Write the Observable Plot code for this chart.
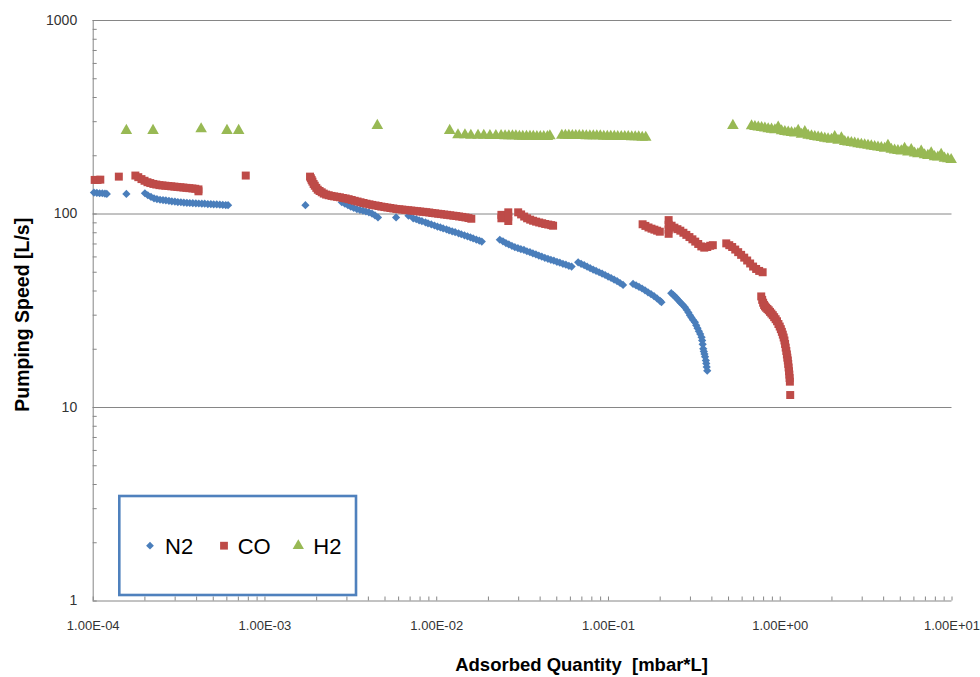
<!DOCTYPE html>
<html>
<head>
<meta charset="utf-8">
<script src="https://cdn.jsdelivr.net/npm/d3@7"></script>
<script src="https://cdn.jsdelivr.net/npm/@observablehq/plot@0.6"></script>
<style>
  body { margin: 0; background: #fff; }
  #wrap { position: relative; width: 980px; height: 677px; overflow: hidden; background: #fff; }
  #wrap svg { display: block; }
</style>
</head>
<body>
<div id="wrap"></div>
<script>
// ---------- series ----------
const seriesNames = ["N2", "CO", "H2"];
const seriesColors = ["#4A7EBB", "#BE4B48", "#98B954"];

// N2 (blue diamonds)
const n2X = [1.01e-4,1.05e-4,1.09e-4,1.13e-4,1.17e-4,1.2e-4,
  1.56e-4,
  2.0e-4,2.08e-4,2.17e-4,2.26e-4,2.35e-4,2.45e-4,2.55e-4,2.65e-4,2.76e-4,2.87e-4,2.99e-4,3.11e-4,3.24e-4,3.37e-4,3.51e-4,3.65e-4,3.80e-4,3.96e-4,4.12e-4,4.29e-4,4.46e-4,4.65e-4,4.84e-4,5.03e-4,5.24e-4,5.46e-4,5.68e-4,5.91e-4,6.1e-4,
  1.72e-3,
  2.8e-3,2.92e-3,3.04e-3,3.16e-3,3.29e-3,3.43e-3,3.57e-3,3.72e-3,3.87e-3,4.03e-3,4.2e-3,4.37e-3,4.55e-3,
  5.8e-3,6.85e-3,
  7.3e-3,7.6e-3,7.9e-3,8.2e-3,8.6e-3,8.9e-3,9.3e-3,9.7e-3,1.01e-2,1.05e-2,1.09e-2,1.14e-2,1.18e-2,1.23e-2,1.28e-2,1.34e-2,1.39e-2,1.45e-2,1.51e-2,1.57e-2,1.63e-2,1.70e-2,1.77e-2,1.83e-2,
  2.33e-2,2.43e-2,2.53e-2,2.63e-2,2.74e-2,2.85e-2,2.97e-2,3.09e-2,3.22e-2,3.35e-2,3.49e-2,3.63e-2,3.78e-2,3.93e-2,4.09e-2,4.26e-2,4.44e-2,4.62e-2,4.81e-2,5.01e-2,5.21e-2,5.43e-2,5.65e-2,5.88e-2,6.1e-2,
  6.66e-2,6.93e-2,7.22e-2,7.51e-2,7.82e-2,8.14e-2,8.47e-2,8.82e-2,9.18e-2,9.56e-2,9.95e-2,0.1036,0.1078,0.1122,0.1168,0.1216,
  0.139,0.1447,0.1506,0.1568,0.1632,0.1699,0.1769,0.1842,0.1917,0.1996,0.2034,
  0.232,0.238,0.244,0.25,0.256,0.263,0.27,0.2786,0.285,0.292,0.298,0.304,0.31,0.3185,0.324,0.33,0.336,0.342,0.3483,0.351,0.3535,0.3563,0.359,0.362,0.365,0.369,0.371,0.373,0.3758];
const n2Y = [129,128.5,128,128,127.5,127,
  127,
  128,125,122.5,120.5,119.5,118.5,118,117.5,117,116.3,116,115.3,115,114.6,114.3,114,113.8,113.5,113.3,113,113,112.6,112.4,112.2,112,111.7,111.4,111.2,111,
  111,
  115,113,111,109,107.5,106,105,104,103,102,100.5,98.5,96,
  96,98,
  95,94,92.8,91.8,90.5,89.5,88.3,87.2,86,85.2,84.2,83.2,82.4,81.4,80.5,79.5,78.6,77.6,76.7,75.8,74.8,73.8,72.8,72,
  73.6,72.2,70.8,69.6,68.4,67.4,66.6,65.8,65.2,64.2,63.5,62.6,61.8,61,60.2,59.4,58.7,58,57.4,56.6,56,55.3,54.7,54,53.5,
  56.3,55.3,54.4,53.4,52.5,51.6,50.8,50,49.2,48.4,47.5,46.7,45.8,45,44,43,
  43.5,42.8,42,41.2,40.3,39.4,38.5,37.6,36.6,35.6,35,
  39,38.2,37.4,36.6,35.7,34.8,34,33,32,31,30,29.2,28.4,27.6,26.6,25.7,24.8,24,23.1,22.2,21.2,20.1,19.5,18.9,18.3,17.5,16.9,16.2,15.5];

// CO (red squares)
const coX = [1.02e-4,1.06e-4,1.1e-4,
  1.41e-4,
  1.76e-4,1.83e-4,1.91e-4,1.99e-4,2.07e-4,2.15e-4,2.24e-4,2.33e-4,2.43e-4,2.53e-4,2.63e-4,2.74e-4,2.85e-4,2.97e-4,3.09e-4,3.22e-4,3.35e-4,3.49e-4,3.63e-4,3.78e-4,3.93e-4,4.1e-4,4.1e-4,
  7.73e-4,
  1.83e-3,1.85e-3,1.87e-3,1.89e-3,1.92e-3,1.95e-3,1.99e-3,2.03e-3,2.08e-3,2.14e-3,2.2e-3,2.27e-3,2.35e-3,2.44e-3,2.53e-3,2.63e-3,2.73e-3,2.84e-3,2.95e-3,3.07e-3,3.2e-3,3.33e-3,3.46e-3,3.6e-3,3.75e-3,3.9e-3,4.06e-3,4.22e-3,4.4e-3,4.58e-3,4.76e-3,4.96e-3,5.16e-3,5.37e-3,5.59e-3,5.82e-3,6.06e-3,6.3e-3,6.56e-3,6.83e-3,7.11e-3,7.4e-3,7.7e-3,8.02e-3,8.35e-3,8.69e-3,9.05e-3,9.42e-3,9.8e-3,1.02e-2,1.06e-2,1.105e-2,1.15e-2,1.2e-2,1.25e-2,1.3e-2,1.35e-2,1.41e-2,1.47e-2,1.53e-2,1.59e-2,
  2.38e-2,2.38e-2,2.61e-2,2.61e-2,2.61e-2,
  2.98e-2,3.1e-2,3.23e-2,3.36e-2,3.5e-2,3.64e-2,3.79e-2,3.95e-2,4.11e-2,4.28e-2,4.46e-2,4.64e-2,4.76e-2,
  0.158,0.164,0.171,0.178,0.185,0.192,0.199,
  0.224,0.224,0.224,0.224,
  0.233,0.242,0.252,0.262,0.273,0.284,0.296,0.308,0.32,0.333,0.347,0.361,0.376,0.391,0.405,
  0.485,0.505,0.525,0.547,0.569,0.592,0.617,0.642,0.668,0.695,0.724,0.754,0.79,
  0.775,0.785,0.795,0.805,0.815,0.828,0.842,0.857,0.872,0.888,0.905,0.922,0.94,0.958,0.976,0.993,1.008,1.022,1.035,1.047,1.058,1.067,1.076,1.085,1.093,1.1,1.107,1.113,1.119,1.125,1.13,1.134,1.138,1.143];
const coY = [150,150,150.5,
  156,
  158,155,151.5,148.5,146,144.5,143,142,141,140.5,140,139.5,139,138.5,138,137.5,137,136.5,136,135.5,135,134,131,
  158,
  156,153,150,147,143,140,136.5,133.5,131.5,129.5,127.5,126,125,124,123.3,122.6,122,121,120.3,119.3,118.2,117,116,115,114,113,112.2,111.4,110.7,110,109.2,108.6,108,107.4,106.8,106.2,105.8,105.4,105,104.6,104.2,103.8,103.4,103,102.6,102.2,101.8,101.2,100.8,100.3,99.9,99.4,99,98.5,98,97.6,97.1,96.6,96,95.3,94.5,
  99,95,102,97,92,
  102,99.5,97,95,93.5,92.3,91.3,90.4,89.6,88.8,88.2,87.6,87,
  88.5,86.8,85.2,84,83,82,81,
  93,88,83,79,
  87,85,83.5,82,80,78,76,74,72,70,68,67,67.5,68.5,69,
  70.5,69,67.5,65.5,63.5,61.5,59.5,57.5,55.5,53.5,52,50.8,50,
  37.5,36,34.8,33.9,33.3,32.8,32.3,31.8,31.2,30.6,30,29.3,28.6,27.9,27,26.2,25.4,24.6,23.8,23,22.2,21.3,20.4,19.6,18.8,18.1,17.5,16.8,16.1,15.4,14.8,14.2,13.6,11.6];

// H2 (green triangles)
const h2X = [1.56e-4,2.23e-4,4.25e-4,6.01e-4,7.03e-4,4.51e-3,1.19e-2,
  1.33e-2,1.46e-2,1.58e-2,1.74e-2,1.88e-2,2.04e-2,2.21e-2,2.37e-2,2.50e-2,2.63e-2,2.76e-2,2.89e-2,3.03e-2,3.17e-2,3.33e-2,3.49e-2,3.65e-2,3.83e-2,4.01e-2,4.20e-2,4.41e-2,4.56e-2,
  5.35e-2,5.61e-2,5.88e-2,6.16e-2,6.45e-2,6.76e-2,7.09e-2,7.43e-2,7.79e-2,8.16e-2,8.55e-2,8.96e-2,9.39e-2,9.84e-2,0.1031,0.1081,0.1132,0.1187,0.1244,0.1303,0.1366,0.1431,0.1500,0.1572,0.1648,
  0.53,
  0.681,0.712,0.745,0.779,0.814,0.851,0.890,0.931,0.973,1.018,1.064,1.113,1.163,1.216,1.272,1.330,1.390,1.454,1.520,1.589,1.662,1.737,1.817,1.899,1.986,2.076,2.171,2.270,2.374,2.482,2.595,2.713,2.837,2.966,3.101,3.243,3.391,3.545,3.707,3.876,4.052,4.237,4.430,4.632,4.843,5.064,5.295,5.536,5.789,6.053,6.329,6.617,6.919,7.234,7.564,7.909,8.270,8.647,9.041,9.453,9.884];
const h2Y = [270,270,275.5,270,270,286.5,270,
  256,256,255,255,255,254,254,254,253,253,253,253,252,252,252,252,252,251,251,251,251,253,
  255,255,255,254,254,254,254,253,253,253,253,253,252,252,252,252,251,251,251,251,250,250,250,249,249,
  286.5,
  285,283,281,279,277.5,275.5,274,272,281,268.5,266.5,265,263,261.5,270,258,266,254.5,253,251,249.5,248,246,244.5,243,251,240,247,236.5,235,233.5,232,230.5,229,227.5,226,224.5,223,221.5,220,218.5,226,215.5,214,212.5,211.5,218,208.5,215,206,204.5,211,202,200.5,207,197.5,196.5,203,194,192.5,191];

// ---------- axes ----------
const xTickValues = [1e-4, 1e-3, 1e-2, 1e-1, 1, 10];
const xTickLabels = ["1.00E-04", "1.00E-03", "1.00E-02", "1.00E-01", "1.00E+00", "1.00E+01"];
const yTickValues = [1, 10, 100, 1000];
const yTickLabels = ["1", "10", "100", "1000"];
const xTitle = "Adsorbed Quantity\u00a0 [mbar*L]";
const yTitle = "Pumping Speed [L/s]";

const xMinor = d3.range(-4, 1).flatMap(e => d3.range(1, 10).map(m => m * Math.pow(10, e))).concat([10]);
const yMinor = d3.range(0, 3).flatMap(e => d3.range(1, 10).map(m => m * Math.pow(10, e))).concat([1000]);

const rows = (xs, ys, s) => xs.map((x, i) => ({x, y: ys[i], series: s}));
const n2 = rows(n2X, n2Y, seriesNames[0]);
const co = rows(coX, coY, seriesNames[1]);
const h2 = rows(h2X, h2Y, seriesNames[2]);

const axisGray = "#868686";
const font = "'Liberation Sans', Arial, sans-serif";

const chart = Plot.plot({
  width: 980,
  height: 677,
  marginLeft: 92.7,
  marginRight: 28.5,
  marginTop: 20,
  marginBottom: 76.5,
  x: {type: "log", domain: [1e-4, 10]},
  y: {type: "log", domain: [1, 1000]},
  style: {fontFamily: font, fontSize: "14px", color: "#333", background: "#fff", overflow: "visible"},
  marks: [
    Plot.ruleY(yTickValues.slice(1), {stroke: axisGray, strokeWidth: 1}),
    Plot.ruleX([xTickValues[0]], {stroke: axisGray, strokeWidth: 1}),
    Plot.ruleY([yTickValues[0]], {stroke: axisGray, strokeWidth: 1}),
    Plot.axisX(xMinor, {anchor: "bottom", tickSize: -4, stroke: axisGray, fill: "none", label: null}),
    Plot.axisY(yMinor, {anchor: "left", tickSize: -4, stroke: axisGray, fill: "none", label: null}),
    Plot.axisX(xTickValues, {anchor: "bottom", tickSize: 0, tickPadding: 20,
      tickFormat: d => xTickLabels[xTickValues.indexOf(d)], label: null, fontSize: 13}),
    Plot.axisY(yTickValues, {anchor: "left", tickSize: 0, tickPadding: 16,
      tickFormat: d => yTickLabels[yTickValues.indexOf(d)], label: null, fontSize: 14}),
    Plot.dot(n2, {x: "x", y: "y", symbol: "diamond2", r: 3.7, fill: seriesColors[0], stroke: "none"}),
    Plot.dot(co, {x: "x", y: "y", symbol: "square", r: 4.5, fill: seriesColors[1], stroke: "none"}),
    Plot.dot(h2, {x: "x", y: "y", symbol: "triangle", r: 4.3, fill: seriesColors[2], stroke: "none"}),
    Plot.text([yTitle], {text: d => d, frameAnchor: "left", textAnchor: "middle", lineAnchor: "middle",
      dx: -70.7, dy: 4, rotate: -90, fontSize: 19.5, fontWeight: "bold", fill: "#000"}),
    Plot.text([xTitle], {text: d => d, frameAnchor: "bottom", textAnchor: "middle", lineAnchor: "middle",
      dx: 59, dy: 64.5, fontSize: 18.5, fontWeight: "bold", fill: "#000"})
  ]
});

const wrap = document.getElementById("wrap");
wrap.appendChild(chart);

// ---------- legend (inside plot area, as in the reference) ----------
const leg = d3.select(wrap).append("svg")
  .attr("width", 980).attr("height", 677)
  .style("position", "absolute").style("left", "0px").style("top", "0px")
  .style("pointer-events", "none");
leg.append("rect")
  .attr("x", 119.3).attr("y", 496).attr("width", 236.7).attr("height", 99)
  .attr("fill", "#fff").attr("stroke", "#4F81BD").attr("stroke-width", 2.6);
const legendSymbols = [d3.symbolDiamond2, d3.symbolSquare, d3.symbolTriangle];
const legendSizes = [3.5, 4.4, 4.2];
const legendSymX = [150, 224, 298.3];
const legendTextX = [165, 237.7, 313.3];
seriesNames.forEach((name, i) => {
  leg.append("path")
    .attr("transform", `translate(${legendSymX[i]},545.7)`)
    .attr("d", d3.symbol(legendSymbols[i], legendSizes[i] * legendSizes[i] * Math.PI)())
    .attr("fill", seriesColors[i]);
  leg.append("text")
    .attr("x", legendTextX[i]).attr("y", 553.5)
    .attr("font-family", font).attr("font-size", 22)
    .attr("fill", "#000")
    .text(name);
});
</script>
</body>
</html>
